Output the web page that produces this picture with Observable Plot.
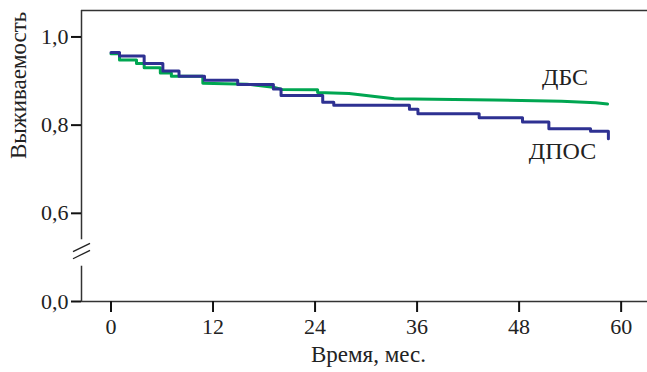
<!DOCTYPE html>
<html>
<head>
<meta charset="utf-8">
<script src="https://cdn.jsdelivr.net/npm/d3@7"></script>
<script src="https://cdn.jsdelivr.net/npm/@observablehq/plot@0.6"></script>
<style>
  html, body { margin: 0; padding: 0; background: #fff; }
  #chart svg { display: block; }
  #chart svg, #chart svg text { font-family: "Liberation Serif", "DejaVu Serif", serif !important; }
</style>
</head>
<body>
<div id="chart"></div>
<script>
// ДПОС (blue) — Kaplan–Meier steps: time (months) and survival
const dposTime = [0, 1.0, 3.9, 6.1, 8.0, 11.0, 14.9, 19.1, 20.0, 24.9, 26.2, 35.1, 36.1, 43.3, 48.4, 51.5, 56.4, 58.5];
const dposSurv = [0.965, 0.957, 0.940, 0.923, 0.911, 0.902, 0.892, 0.882, 0.867, 0.852, 0.845, 0.836, 0.826, 0.817, 0.807, 0.792, 0.786, 0.769];

// ДБС (green) — curve vertices: time (months) and survival
const dbsTime = [0, 1.0, 1.0, 3.0, 3.0, 3.9, 3.9, 5.8, 5.8, 7.1, 7.1, 10.8, 10.8, 16.0, 19.1, 20.1, 24.3, 24.3, 28.0, 33.3, 45.0, 53.0, 57.0, 58.4];
const dbsSurv = [0.962, 0.962, 0.948, 0.948, 0.940, 0.940, 0.930, 0.930, 0.918, 0.918, 0.911, 0.911, 0.895, 0.893, 0.886, 0.881, 0.880, 0.874, 0.872, 0.860, 0.857, 0.854, 0.851, 0.848];

const xTicks = [0, 12, 24, 36, 48, 60];
// broken axis: the lowest tick position shows 0,0
const yTickValues = [0.4, 0.6, 0.8, 1.0];
const yTickLabels = ["0,0", "0,6", "0,8", "1,0"];

const seriesNames = ["ДБС", "ДПОС"];
const seriesLabelX = [53.4, 53.1];
const seriesLabelY = [0.908, 0.740];

const xTitle = "Время, мес.";
const yTitle = "Выживаемость";

const blue = "#2e3192";
const green = "#00a651";
const font = "Liberation Serif";

const xDomain = [-3.47, 63.1];
const yDomain = [0.4, 1.06];
const breakLow = 0.48, breakHigh = 0.54;

const dpos = dposTime.map((t, i) => ({t, s: dposSurv[i]}));
const dbs = dbsTime.map((t, i) => ({t, s: dbsSurv[i]}));
const labels = seriesNames.map((n, i) => ({n, x: seriesLabelX[i], y: seriesLabelY[i]}));
const slashes = [0.497, 0.513].map(y => ({x1: xDomain[0] - 1, y1: y, x2: xDomain[0] + 1, y2: y + 0.019}));

const chart = Plot.plot({
  width: 647,
  height: 372,
  marginLeft: 81,
  marginRight: 0,
  marginTop: 10,
  marginBottom: 71,
  style: {fontFamily: font, background: "#fff"},
  x: {domain: xDomain},
  y: {domain: yDomain},
  marks: [
    Plot.ruleY([yDomain[1]], {stroke: "#333", strokeWidth: 1.5}),
    Plot.ruleY([yDomain[0]], {stroke: "#333", strokeWidth: 1.5}),
    Plot.ruleX([xDomain[0]], {y1: breakHigh, y2: yDomain[1], stroke: "#333", strokeWidth: 1.5}),
    Plot.ruleX([xDomain[0]], {y1: yDomain[0], y2: breakLow, stroke: "#333", strokeWidth: 1.5}),
    Plot.link(slashes, {x1: "x1", y1: "y1", x2: "x2", y2: "y2", stroke: "#222", strokeWidth: 1.3}),
    Plot.axisX({ticks: xTicks, tickSize: 11, tickPadding: 6, tickFormat: d => String(d), fontSize: 22, fontFamily: font, stroke: "#111", strokeWidth: 2, fill: "#222", label: null}),
    Plot.axisY({ticks: yTickValues, tickSize: 10, tickPadding: 3, tickFormat: d => yTickLabels[yTickValues.indexOf(d)], fontSize: 22, fontFamily: font, stroke: "#111", strokeWidth: 2, fill: "#222", label: null}),
    Plot.text([xTitle], {frameAnchor: "bottom", dy: 60, dx: 4, fontSize: 23, fontFamily: font, fill: "#222", textAnchor: "middle"}),
    Plot.text([yTitle], {frameAnchor: "left", dx: -63, dy: 3, rotate: -90, fontSize: 23, fontFamily: font, fill: "#222"}),
    Plot.line(dbs, {x: "t", y: "s", stroke: green, strokeWidth: 3}),
    Plot.line(dpos, {x: "t", y: "s", curve: "step-after", stroke: blue, strokeWidth: 3}),
    Plot.text(labels, {x: "x", y: "y", text: "n", fontSize: 24, fontFamily: font, fill: "#222"})
  ]
});
document.getElementById("chart").appendChild(chart);
</script>
</body>
</html>
